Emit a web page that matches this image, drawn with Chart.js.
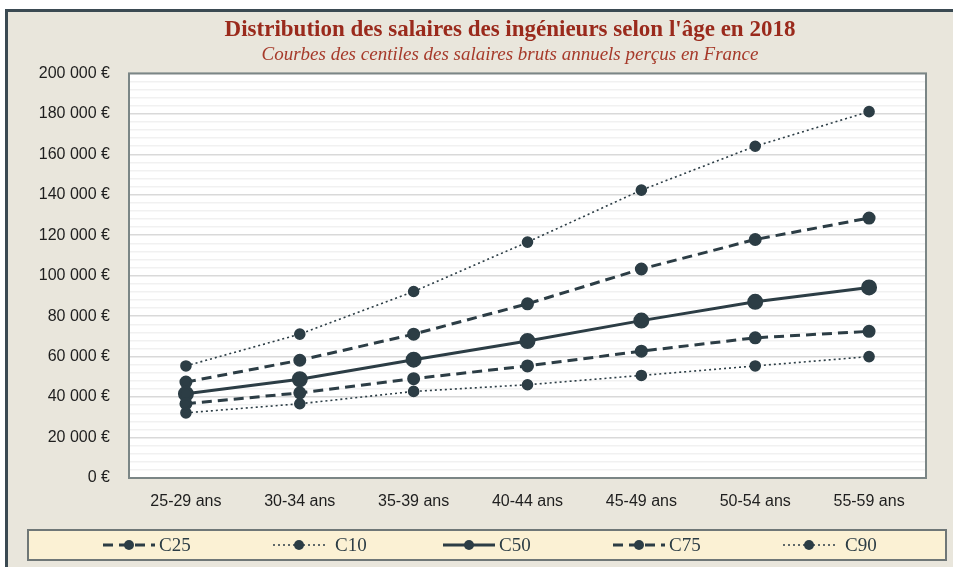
<!DOCTYPE html>
<html>
<head>
<meta charset="utf-8">
<script src="https://cdn.jsdelivr.net/npm/chart.js@4"></script>
<style>
  html, body { margin: 0; padding: 0; background: #fff; overflow: hidden; }
  #frame {
    position: absolute; left: 5px; top: 9px; width: 960px; height: 570px;
    background: #e9e6dc; border-left: 3px solid #3b4a52; border-top: 3px solid #3b4a52;
  }
  #wrap { position: absolute; left: 0; top: 0; width: 953px; height: 567px; }
</style>
</head>
<body>
<div id="frame"></div>
<div id="wrap"><canvas id="myChart" width="953" height="567"></canvas></div>
<script>
const ages = ['25-29 ans', '30-34 ans', '35-39 ans', '40-44 ans', '45-49 ans', '50-54 ans', '55-59 ans']
const c25 = [36700, 42100, 49100, 55400, 62700, 69300, 72500]
const c10 = [32200, 36700, 42800, 46100, 50700, 55400, 60000]
const c50 = [41600, 48800, 58500, 67700, 77800, 87100, 94200]
const c75 = [47400, 58200, 71100, 86100, 103300, 117900, 128500]
const c90 = [55400, 71100, 92200, 116600, 142300, 164000, 181100]

const ink = '#2c3d45'

function euro(v){
  return v.toString().replace(/\B(?=(\d{3})+(?!\d))/g, ' ') + ' €'
}

// fond blanc + cadre de la zone de tracé, légende maison en bas
const plotBox = {
  id: 'plotBox',
  afterLayout(chart){
    // recentrer titre et sous-titre comme dans l'original
    chart.boxes.forEach(b => {
      if (b.options && typeof b.options.text === 'string' && b.options.text.length) b.left = 94
    })
  },
  beforeDraw(chart){
    const a = chart.chartArea, c = chart.ctx
    c.save()
    c.fillStyle = '#ffffff'
    c.fillRect(a.left, a.top, a.right - a.left, a.bottom - a.top)
    c.restore()
  },
  afterDraw(chart){
    const a = chart.chartArea, c = chart.ctx
    c.save()
    c.strokeStyle = '#7b8686'
    c.lineWidth = 2
    c.strokeRect(a.left, a.top, a.right - a.left, a.bottom - a.top)

    // légende
    c.fillStyle = '#fbf1d4'
    c.fillRect(28, 530, 918, 30)
    c.strokeStyle = '#6f7777'
    c.lineWidth = 2
    c.strokeRect(28, 530, 918, 30)
    const yc = 545
    chart.data.datasets.forEach((ds, i) => {
      const x0 = 103 + i * 170
      c.strokeStyle = ds.borderColor
      c.lineWidth = ds.borderWidth
      c.setLineDash(ds.borderDash || [])
      c.beginPath()
      c.moveTo(x0, yc)
      c.lineTo(x0 + 52, yc)
      c.stroke()
      c.setLineDash([])
      c.fillStyle = ds.pointBackgroundColor
      c.beginPath()
      c.arc(x0 + 26, yc, 5, 0, Math.PI * 2)
      c.fill()
      c.fillStyle = ink
      c.font = '19px "Liberation Serif"'
      c.textBaseline = 'middle'
      c.fillText(ds.label, x0 + (ds.borderWidth < 2 ? 62 : 56), yc + 1)
    })
    c.restore()
  }
}

function serie(label, data, dash, width, radius){
  return {
    label: label,
    data: data,
    borderColor: ink,
    backgroundColor: ink,
    pointBackgroundColor: ink,
    pointBorderColor: ink,
    borderWidth: width,
    borderDash: dash,
    pointRadius: radius,
    pointHoverRadius: radius,
    tension: 0
  }
}

const ctx = document.getElementById('myChart')
const myChart = new Chart(ctx, {
  type: 'line',
  data: {
    labels: ages,
    datasets: [
      serie('C25', c25, [10, 6], 3, 5),
      serie('C10', c10, [2, 3], 1.6, 5),
      serie('C50', c50, [], 3, 6.5),
      serie('C75', c75, [10, 6], 3, 5),
      serie('C90', c90, [2, 3], 1.6, 5)
    ]
  },
  options: {
    responsive: false,
    animation: false,
    layout: { padding: { left: 0, right: 27, top: 0, bottom: 0 } },
    plugins: {
      legend: { display: false },
      tooltip: { enabled: false },
      title: {
        display: true,
        text: "Distribution des salaires des ingénieurs selon l'âge en 2018",
        color: '#9a2a1c',
        font: { family: 'Liberation Serif', size: 23, weight: 'bold', lineHeight: 1.2 },
        padding: { top: 16, bottom: 0 }
      },
      subtitle: {
        display: true,
        text: 'Courbes des centiles des salaires bruts annuels perçus en France',
        color: '#a63a2a',
        font: { family: 'Liberation Serif', size: 19, style: 'italic', lineHeight: 1.2 },
        padding: { top: 0, bottom: 7 }
      }
    },
    scales: {
      x: {
        offset: true,
        grid: { display: false, drawTicks: false },
        border: { display: false },
        ticks: { color: '#1e1e1e', padding: 14, maxRotation: 0, font: { family: 'Liberation Sans', size: 16 } },
        afterFit(s){ s.height = 89 }
      },
      y: {
        min: 0,
        max: 200000,
        grid: {
          drawTicks: false,
          color: c => (c.tick && c.tick.value % 20000 === 0) ? '#d9d9d9' : '#f1f1f1',
          lineWidth: 1.5
        },
        border: { display: false },
        ticks: {
          stepSize: 4000,
          autoSkip: false,
          maxTicksLimit: 100,
          padding: 19,
          color: '#1e1e1e',
          font: { family: 'Liberation Sans', size: 16 },
          callback: v => (v % 20000 === 0) ? euro(v) : ''
        },
        afterFit(s){ s.width = 129 }
      }
    }
  },
  plugins: [plotBox]
})
</script>
</body>
</html>
